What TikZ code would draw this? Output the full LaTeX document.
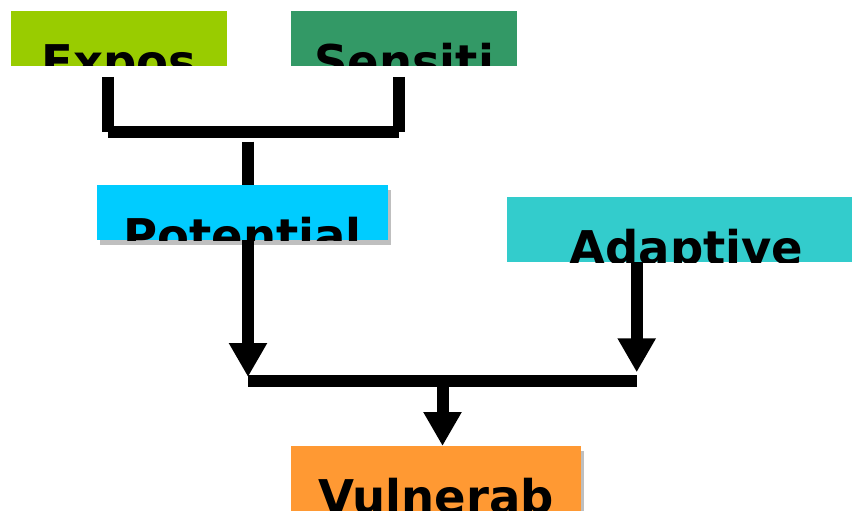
\documentclass[tikz,border=0pt]{standalone}
\usepackage{fontspec}
\setmainfont{DejaVu Sans}
\usetikzlibrary{arrows.meta,shadows,calc}
\definecolor{cExpo}{HTML}{99CC00}
\definecolor{cSens}{HTML}{339966}
\definecolor{cPot}{HTML}{00CCFF}
\definecolor{cAdap}{HTML}{33CCCC}
\definecolor{cVuln}{HTML}{FF9933}
\pgfdeclarelayer{bg}
\pgfsetlayers{bg,main}
\tikzset{
  box/.style={anchor=north west, inner sep=0pt, outer sep=0pt, draw=none},
  lblfont/.style={anchor=base, inner sep=0pt, font=\fontsize{46.5}{56}\selectfont\bfseries, text=black},
  lbl/.style 2 args={path picture={\node[lblfont] at ([xshift=#2, yshift=-67.5pt]path picture bounding box.north) {#1};}},
  shad/.style={general shadow={fill=black, opacity=0.25, shadow xshift=3pt, shadow yshift=-4.5pt}},
  conn/.style={line width=12pt, line cap=butt, draw=black},
  arr/.style={conn, -{Triangle[width=36pt, length=34pt]}},
}
\begin{document}
\begin{tikzpicture}[x=1pt, y=-1pt]
\useasboundingbox (0,0) rectangle (852,511);
% boxes
\node[box, fill=cExpo, minimum width=216pt, minimum height=55pt, lbl={Expos}{0pt}] (expo) at (11,11) {};
\node[box, fill=cSens, minimum width=226pt, minimum height=55pt, lbl={Sensiti}{0pt}] (sens) at (291,11) {};
\node[box, fill=cPot, minimum width=291pt, minimum height=55pt, shad, lbl={Potential}{0pt}] (pot) at (97,185) {};
\node[box, fill=cAdap, minimum width=345pt, minimum height=65pt, lbl={Adaptive}{7pt}] (adap) at (507,197) {};
\node[box, fill=cVuln, minimum width=290pt, minimum height=65pt, shad, lbl={Vulnerab}{0pt}] (vuln) at (291,446) {};
% connector points
\coordinate (eL) at (108,77);
\coordinate (eLb) at (108,131.7);
\coordinate (sR) at (399.3,77);
\coordinate (sRb) at (399.3,131.7);
\coordinate (stem) at (248,141.7);
\coordinate (jL) at (248,377);
\coordinate (jR) at (636.7,372.3);
\coordinate (barL) at (248.3,381);
\coordinate (barR) at (636.7,381);
\coordinate (bm) at (442.5,387);
\begin{pgfonlayer}{bg}
\draw[conn] (eL) -- (eLb);
\draw[conn] (sR) -- (sRb);
\draw[conn] (eLb) -- (sRb);
\draw[arr] (stem) -- (jL);
\draw[arr] (adap.south west -| jR) -- (jR);
\draw[conn] (barL) -- (barR);
\draw[arr] (bm) -- (bm |- vuln.north);
\end{pgfonlayer}
\end{tikzpicture}
\end{document}
